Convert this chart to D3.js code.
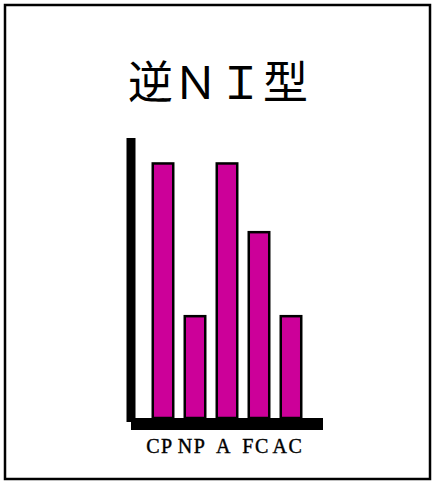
<!DOCTYPE html>
<html><head><meta charset="utf-8">
<script src="https://cdn.jsdelivr.net/npm/d3@7"></script>
<style>html,body{margin:0;padding:0;background:#fff;}svg{display:block;}</style>
</head><body>
<script>
const title = "逆ＮＩ型";
const categories = ["CP", "NP", "A", "FC", "AC"];
const values = [10, 4, 10, 7.3, 4];
const yDomain = [0, 11];

const W = 435, H = 486;
const svg = d3.select("body").append("svg").attr("width", W).attr("height", H);

svg.append("rect").attr("x", 5).attr("y", 5).attr("width", 425).attr("height", 474)
  .attr("fill", "#fff").attr("stroke", "#000").attr("stroke-width", 2.5);

svg.append("text").attr("x", 218).attr("y", 99).attr("text-anchor", "middle")
  .attr("font-family", "'Noto Sans CJK JP'").attr("font-size", 45).attr("fill", "#000")
  .text(title);

const x = d3.scaleBand().domain(categories).range([147, 307]).paddingInner(0.36).paddingOuter(0.18);
const y = d3.scaleLinear().domain(yDomain).range([418, 138]);

// vertical axis
svg.append("line").attr("x1", 131).attr("x2", 131).attr("y1", y(yDomain[1])).attr("y2", 422)
  .attr("stroke", "#000").attr("stroke-width", 9);

svg.selectAll("rect.bar").data(categories).join("rect").attr("class", "bar")
  .attr("x", d => x(d)).attr("width", x.bandwidth())
  .attr("y", (d, i) => y(values[i])).attr("height", (d, i) => y(0) - y(values[i]))
  .attr("fill", "#cc0099").attr("stroke", "#000").attr("stroke-width", 2.5);

// horizontal axis
svg.append("line").attr("x1", 131).attr("x2", 323).attr("y1", 424).attr("y2", 424)
  .attr("stroke", "#000").attr("stroke-width", 12);

svg.selectAll("text.lab").data(categories).join("text").attr("class", "lab")
  .attr("x", d => x(d) + x.bandwidth() / 2 - 3).attr("y", 453)
  .attr("text-anchor", "middle").attr("font-family", "'Liberation Serif'")
  .attr("font-size", 20).attr("letter-spacing", 1.5)
  .attr("fill", "#000").attr("stroke", "#000").attr("stroke-width", 0.4)
  .text(d => d);
</script>
</body></html>
